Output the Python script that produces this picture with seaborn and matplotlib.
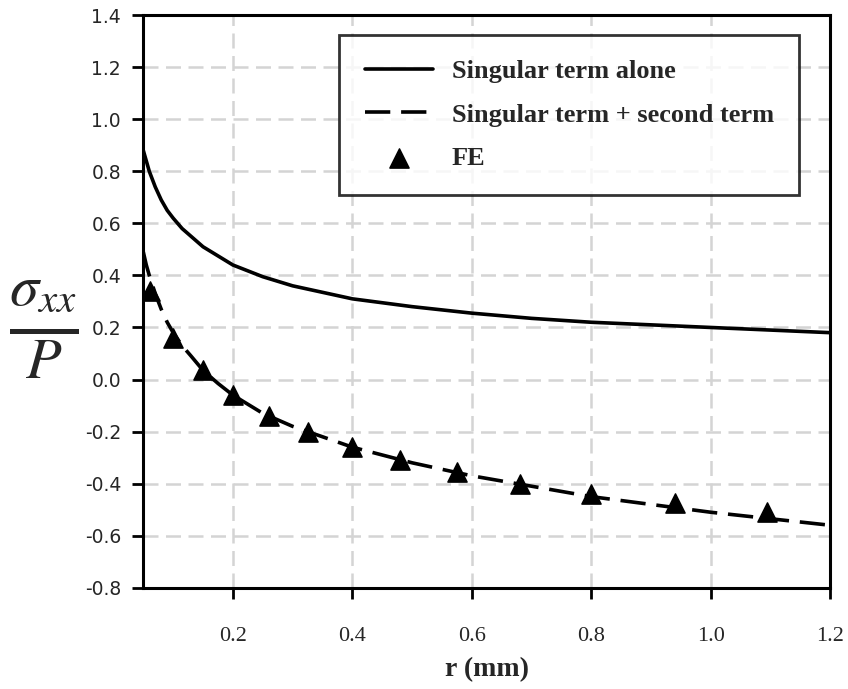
import matplotlib
matplotlib.use("Agg")
import matplotlib.pyplot as plt
import seaborn as sns
import pandas as pd

# curves
r_curve = [0.05, 0.055, 0.06, 0.07, 0.08, 0.09, 0.1, 0.115, 0.13, 0.15, 0.175, 0.2, 0.25, 0.3, 0.35,
           0.4, 0.5, 0.6, 0.7, 0.8, 0.9, 1.0, 1.1, 1.2]
singular = [0.88, 0.84, 0.80, 0.74, 0.69, 0.65, 0.62, 0.58, 0.55, 0.51, 0.475, 0.44, 0.395, 0.36, 0.335,
            0.31, 0.28, 0.255, 0.235, 0.22, 0.21, 0.20, 0.19, 0.18]
two_terms = [0.49, 0.44, 0.40, 0.33, 0.27, 0.22, 0.18, 0.13, 0.09, 0.035, -0.015, -0.06, -0.13, -0.18, -0.22,
             -0.26, -0.32, -0.37, -0.41, -0.45, -0.48, -0.51, -0.535, -0.56]

# FE results
r_fe = [0.062, 0.1, 0.15, 0.2, 0.26, 0.325, 0.4, 0.48, 0.575, 0.68, 0.80, 0.94, 1.095]
sig_fe = [0.34, 0.16, 0.035, -0.06, -0.14, -0.20, -0.26, -0.31, -0.355, -0.40, -0.44, -0.475, -0.51]

df = pd.DataFrame({"r": r_curve, "single": singular, "two": two_terms})
fe = pd.DataFrame({"r": r_fe, "s": sig_fe})

sns.set_style("white")
plt.rcParams["mathtext.fontset"] = "stix"
fig = plt.figure(figsize=(8.48, 6.89), dpi=100)
ax = fig.add_axes([0.169, 0.147, 0.810, 0.831])

sns.lineplot(data=df, x="r", y="single", ax=ax, color="black", lw=2.6,
             label="Singular term alone")
sns.lineplot(data=df, x="r", y="two", ax=ax, color="black", lw=2.6,
             label="Singular term + second term")
ax.lines[-1].set_dashes([7, 3, 7, 3])
sns.scatterplot(data=fe, x="r", y="s", ax=ax, marker="^", s=190, color="black",
                edgecolor="black", zorder=5, label="FE")

ax.set_xlim(0.05, 1.2)
ax.set_ylim(-0.8, 1.4)
ax.set_xticks([0.2, 0.4, 0.6, 0.8, 1.0, 1.2])
ax.set_yticks([-0.8 + 0.2 * i for i in range(12)])
ax.set_xticklabels(["0.2", "0.4", "0.6", "0.8", "1.0", "1.2"],
                   fontfamily="Liberation Serif", fontsize=16)
ax.set_yticklabels([f"{-0.8 + 0.2 * i:.1f}" for i in range(12)],
                   fontfamily="DejaVu Sans", fontsize=13.5)
ax.tick_params(axis="both", direction="out", length=8, width=2, color="black",
               bottom=True, left=True)
ax.tick_params(axis="x", pad=20)
ax.tick_params(axis="y", pad=8)

ax.grid(True, color="#d4d4d4", linestyle=(0, (6, 3)), linewidth=1.8)
ax.set_axisbelow(True)
for sp in ax.spines.values():
    sp.set_visible(True)
    sp.set_color("black")
    sp.set_linewidth(2.2)

ax.set_xlabel("r (mm)", fontfamily="Liberation Serif", fontweight="bold",
              fontsize=20, labelpad=8)
ax.set_ylabel(r"$\frac{\sigma_{xx}}{P}$", fontsize=60, rotation=0,
              va="center", ha="center")
ax.yaxis.set_label_coords(-0.145, 0.45)

leg = ax.legend(loc="upper right", bbox_to_anchor=(0.962, 0.975), frameon=True,
                fancybox=False, edgecolor="black", handlelength=2.6,
                prop={"family": "Liberation Serif", "weight": "bold", "size": 19},
                borderpad=0.95, labelspacing=0.75, handletextpad=0.7,
                borderaxespad=0.2)
leg.get_frame().set_linewidth(2)

fig.savefig("out.png", dpi=100)
